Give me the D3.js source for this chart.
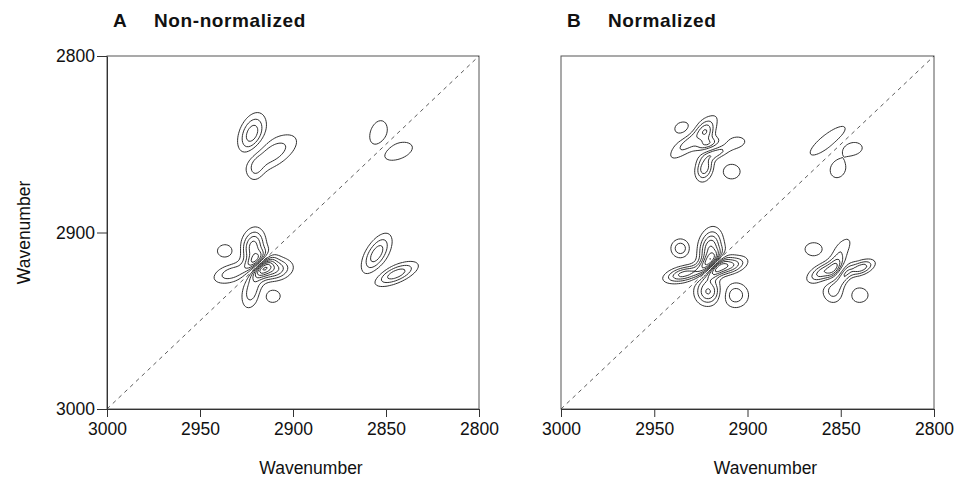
<!DOCTYPE html>
<meta charset="utf-8">
<style>
body { margin: 0; background: #fff; }
svg { position: absolute; left: 0; top: 0; }
text { font-family: 'Liberation Sans', Arial, Helvetica, sans-serif; fill: #111; }
.title { font-size: 19px; font-weight: bold; letter-spacing: 0.6px; }
.axis text { font-size: 17.5px; fill: #111; }
.axis line, .axis path { stroke: #333; }
.axis-label { font-size: 17.5px; }
.frame { fill: none; stroke: #555; stroke-width: 1; }
.contour { fill: none; stroke: #1a1a1a; stroke-width: 0.9; stroke-linejoin: round; }
.diag { stroke: #333; stroke-width: 0.8; stroke-dasharray: 4,4; }
</style>
<script src="https://d3js.org/d3.v7.min.js"></script>

<svg width="954" height="478"></svg>

<script>
// chart data
var panelLetters = ["A", "B"];
var panelTitles = ["Non-normalized", "Normalized"];
var xTicks = [3000, 2950, 2900, 2850, 2800];
var yTicks = [2800, 2900, 3000];
var levels = [0.1, 0.2, 0.3, 0.4, 0.5, 0.6, 0.7, 0.8, 0.9];

// correlation lobes:
// [x wavenumber, y wavenumber, amplitude, sigma along, sigma across, angle deg]
var peaksA = [
  // 2922 / 2845 cross peak
  [2922, 2844, 0.37, 7.7, 4.3, 70],
  [2911, 2855, -0.27, 10.6, 5, 35],
  [2920, 2864, -0.14, 5, 3, 80],
  // 2850 / 2850
  [2854, 2844, 0.17, 7.3, 4.4, 75],
  [2844, 2854, -0.17, 8.3, 4.4, 20],
  // 2918 / 2918
  [2921.5, 2908, 0.45, 6.5, 4, 80],
  [2933, 2923, 0.27, 7, 3.5, 20],
  [2911, 2921, -0.45, 6.5, 4, 10],
  [2922, 2933, -0.27, 7, 3.5, 75],
  [2920, 2916, 0.4, 5, 2.5, 45],
  [2916, 2920, -0.4, 5, 2.5, 45],
  [2936.5, 2910.5, -0.17, 4, 3.5, 0],
  [2911, 2936, 0.17, 4, 3.5, 0],
  // 2850 / 2918
  [2855, 2912, 0.37, 8, 3.7, 60],
  [2844.5, 2923.5, -0.37, 8, 3.1, 25]
];
var peaksB = [
  // 2922 / 2845
  [2934, 2841.5, -0.17, 4.9, 4.1, 0],
  [2929, 2846, 0.3, 11, 3.2, 44],
  [2922, 2844, 0.25, 4, 2.8, 70],
  [2921, 2850, 0.25, 5, 2.2, 20],
  [2917, 2855, -0.25, 5, 2.2, 20],
  [2923, 2863.5, -0.37, 5, 3.1, 75],
  [2906.5, 2849, -0.17, 4.9, 2.9, 10],
  [2908.5, 2865.5, 0.17, 4.4, 4, 0],
  // 2850 / 2850
  [2857, 2848, 0.17, 11.6, 3.4, 40],
  [2843.5, 2852.5, -0.17, 4.9, 3.4, 10],
  [2851.5, 2864, -0.17, 4.9, 3.9, 70],
  // 2918 / 2918
  [2936, 2909, -0.27, 3.6, 3.8, 0],
  [2920, 2909, 0.5, 7, 4, 80],
  [2934, 2923.5, 0.45, 6.8, 2.8, 15],
  [2909.5, 2919, -0.42, 6, 3, 20],
  [2921, 2933.5, -0.42, 5, 4.6, 80],
  [2920.5, 2917, 0.45, 5.5, 2.5, 45],
  [2917, 2920.5, -0.45, 5.5, 2.5, 45],
  [2906.5, 2935.5, 0.27, 5, 5, 0],
  // 2850 / 2918
  [2864.5, 2909.5, -0.17, 4.5, 3.6, 0],
  [2859.5, 2922.5, 0.37, 6, 3, 30],
  [2850, 2910, 0.17, 7, 3, 55],
  [2853, 2920, 0.25, 5, 2.2, 60],
  [2848, 2924, -0.25, 5, 2.2, 60],
  [2839, 2920, -0.37, 5, 2.5, 25],
  [2854, 2933, -0.24, 5, 4.2, 90],
  [2840, 2935.5, 0.17, 4.5, 4, 0]
];

var svg = d3.select("svg");
var panels = [
  { x0: 107, x1: 479, peaks: peaksA, yAxis: true },
  { x0: 561, x1: 934, peaks: peaksB, yAxis: false }
];
var plotTop = 56, plotBottom = 409;
var step = 1, n = 201;

function field(peaks) {
  var vals = new Float64Array(n * n);
  for (var j = 0; j < n; j++) {
    for (var i = 0; i < n; i++) {
      var wx = 3000 - i * step, wy = 2800 + j * step, s = 0;
      peaks.forEach(function(p) {
        var a = p[5] * Math.PI / 180;
        var du = p[0] - wx, dv = p[1] - wy;
        var al = du * Math.cos(a) + dv * Math.sin(a);
        var ac = -du * Math.sin(a) + dv * Math.cos(a);
        s += p[2] * Math.exp(-(al * al / (2 * p[3] * p[3]) + ac * ac / (2 * p[4] * p[4])));
      });
      vals[j * n + i] = s;
    }
  }
  return vals;
}

panels.forEach(function(pn, k) {
  var x = d3.scaleLinear().domain([3000, 2800]).range([pn.x0, pn.x1]);
  var y = d3.scaleLinear().domain([3000, 2800]).range([plotBottom, plotTop]);
  var g = svg.append("g");

  g.append("rect").attr("class", "frame")
    .attr("x", pn.x0).attr("y", plotTop)
    .attr("width", pn.x1 - pn.x0).attr("height", plotBottom - plotTop);

  // contours of positive and negative lobes
  var vals = field(pn.peaks);
  var neg = vals.map(function(v) { return -v; });
  var proj = d3.geoTransform({
    point: function(gx, gy) {
      this.stream.point(x(3000 - (gx - 0.5) * step), y(2800 + (gy - 0.5) * step));
    }
  });
  var path = d3.geoPath(proj);
  var cs = d3.contours().size([n, n]).thresholds(levels);
  var all = cs(vals).concat(cs(neg));
  g.selectAll("path.contour").data(all).enter().append("path")
    .attr("class", "contour")
    .attr("d", path);

  g.append("line").attr("class", "diag")
    .attr("x1", x(3000)).attr("y1", y(3000))
    .attr("x2", x(2800)).attr("y2", y(2800));

  g.append("g").attr("class", "axis")
    .attr("transform", "translate(0," + plotBottom + ")")
    .call(d3.axisBottom(x).tickValues(xTicks).tickFormat(d3.format("d"))
      .tickSize(8).tickSizeOuter(0).tickPadding(6));

  if (pn.yAxis) {
    g.append("g").attr("class", "axis")
      .attr("transform", "translate(" + pn.x0 + ",0)")
      .call(d3.axisLeft(y).tickValues(yTicks).tickFormat(d3.format("d"))
        .tickSize(10).tickSizeOuter(0).tickPadding(2));
    svg.append("text").attr("class", "axis-label")
      .attr("transform", "translate(30," + ((plotTop + plotBottom) / 2) + ") rotate(-90)")
      .attr("text-anchor", "middle")
      .text("Wavenumber");
  }

  g.append("text").attr("class", "title")
    .attr("x", pn.x0 + 6).attr("y", 27).text(panelLetters[k]);
  g.append("text").attr("class", "title")
    .attr("x", pn.x0 + 47).attr("y", 27).text(panelTitles[k]);

  g.append("text").attr("class", "axis-label")
    .attr("x", (pn.x0 + pn.x1) / 2 + 18).attr("y", 474)
    .attr("text-anchor", "middle")
    .text("Wavenumber");
});
</script>
